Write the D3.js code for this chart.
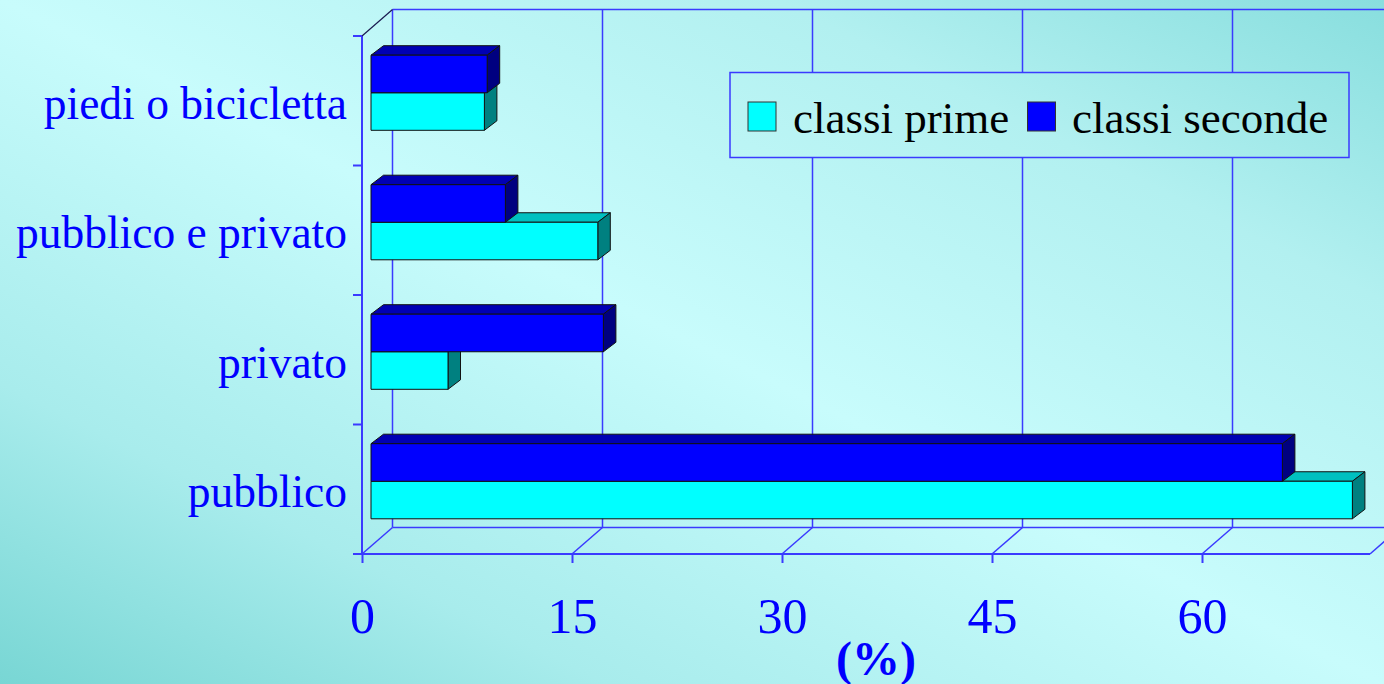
<!DOCTYPE html>
<html><head><meta charset="utf-8">
<script src="https://cdn.jsdelivr.net/npm/d3@7"></script>
<style>html,body{margin:0;padding:0;overflow:hidden;background:#c6fbfb} svg{display:block}</style>
</head><body>
<svg id="c" width="1384" height="684"></svg>
<script>
// ---- data ----
const categories = ["piedi o bicicletta", "pubblico e privato", "privato", "pubblico"];
const seriesNames = ["classi prime", "classi seconde"];
const classiPrime = [8.1, 16.2, 5.5, 70.1];
const classiSeconde = [8.3, 9.6, 16.6, 65.1];
const xTicks = [0, 15, 30, 45, 60];
const axisTitle = "(%)";

// ---- styles ----
const colors = {
  prime: {front: "#00ffff", top: "#00c0c0", side: "#008080"},
  seconde: {front: "#0000ff", top: "#0000b4", side: "#000080"}
};
const gridColor = "#3a3aff";
const labelColor = "#0000ff";
const fontFam = "'Liberation Serif','Times New Roman',serif";

const svg = d3.select("#c");
const W = 1384, H = 684;

// background gradient (light band along the top-left / bottom-right diagonal)
const defs = svg.append("defs");
const g = defs.append("linearGradient").attr("id", "bg")
  .attr("gradientUnits", "userSpaceOnUse")
  .attr("x1", 420).attr("y1", 892).attr("x2", 964).attr("y2", -208);
[[0, "#78d6d4"], [0.22, "#a8ecec"], [0.5, "#c8fcfc"], [0.78, "#b2f0f0"], [1, "#88dede"]]
  .forEach(([o, c]) => g.append("stop").attr("offset", o).attr("stop-color", c));
svg.append("rect").attr("width", W).attr("height", H).attr("fill", "url(#bg)");

// scales
const x = d3.scaleLinear().domain([0, 72]).range([362, 1370]);
const y = d3.scaleBand().domain(categories).range([36, 554]).paddingInner(0.42).paddingOuter(0.21);
const yIn = d3.scaleBand().domain(["seconde", "prime"]).range([0, y.bandwidth()]);
const back = {dx: 30.5, dy: -26.5};
const plane = {dx: 9, dy: -8};
const depth = {dx: 12.5, dy: -9.5};
const y0 = 36, yFloor = 554;
const xMax = x.domain()[1];

// ---- walls & grid ----
const grid = svg.append("g").attr("fill", "none").attr("stroke", gridColor).attr("stroke-width", 1.5);
const line = (a, b, c, d) => grid.append("line").attr("x1", a).attr("y1", b).attr("x2", c).attr("y2", d);
line(x(0) + back.dx, y0 + back.dy, x(xMax) + back.dx, y0 + back.dy);
line(x(0) + back.dx, yFloor + back.dy, x(xMax) + back.dx, yFloor + back.dy);
xTicks.forEach(t => {
  line(x(t) + back.dx, y0 + back.dy, x(t) + back.dx, yFloor + back.dy);
  line(x(t), yFloor, x(t) + back.dx, yFloor + back.dy);
});
line(x(xMax), yFloor, x(xMax) + back.dx, yFloor + back.dy);
line(x(0), yFloor, x(xMax), yFloor).attr("stroke-width", 2);
line(x(0), y0, x(0), yFloor).attr("stroke-width", 2);
line(x(0), y0, x(0) + back.dx, y0 + back.dy).attr("stroke", "#1a1a50").attr("stroke-width", 1.2);
const bounds = d3.range(categories.length + 1).map(i => y0 + i * y.step());
bounds.forEach(b => line(x(0) - 9, b, x(0), b).attr("stroke-width", 2));

// x axis via d3
const xAxis = d3.axisBottom(x).tickValues(xTicks).tickSize(9).tickPadding(34).tickFormat(d3.format("d"));
const ax = svg.append("g").attr("transform", `translate(0,${yFloor})`).call(xAxis);
ax.select(".domain").remove();
ax.selectAll(".tick line").attr("stroke", gridColor).attr("stroke-width", 2);
ax.selectAll(".tick text").attr("fill", labelColor).attr("font-family", fontFam).attr("font-size", 50);

// ---- bars ----
const bars = svg.append("g").attr("stroke", "#111").attr("stroke-width", 1).attr("stroke-linejoin", "round");
categories.forEach((cat, i) => {
  const rows = [
    {key: "prime", v: classiPrime[i]},
    {key: "seconde", v: classiSeconde[i]}
  ];
  rows.forEach(r => {
    const xa = x(0) + plane.dx, xb = x(r.v) + plane.dx;
    const ya = y(cat) + yIn(r.key) + plane.dy, h = yIn.bandwidth();
    const c = colors[r.key];
    const grp = bars.append("g");
    grp.append("polygon").attr("fill", c.top).attr("points",
      [[xa, ya], [xb, ya], [xb + depth.dx, ya + depth.dy], [xa + depth.dx, ya + depth.dy]].join(" "));
    grp.append("polygon").attr("fill", c.side).attr("points",
      [[xb, ya], [xb + depth.dx, ya + depth.dy], [xb + depth.dx, ya + h + depth.dy], [xb, ya + h]].join(" "));
    grp.append("rect").attr("fill", c.front).attr("x", xa).attr("y", ya).attr("width", xb - xa).attr("height", h);
  });
});

// ---- category labels ----
svg.append("g").selectAll("text").data(categories).join("text")
  .attr("x", 347).attr("y", d => y(d) + y.bandwidth() / 2)
  .attr("dy", "0.4em").attr("text-anchor", "end")
  .attr("fill", labelColor).attr("font-family", fontFam).attr("font-size", 45.5)
  .text(d => d);

// axis title
svg.append("text").attr("x", 876).attr("y", 675).attr("text-anchor", "middle")
  .attr("fill", labelColor).attr("font-family", fontFam).attr("font-size", 48).attr("font-weight", "bold")
  .text(axisTitle);

// ---- legend ----
const lg = svg.append("g");
lg.append("rect").attr("x", 730).attr("y", 72.5).attr("width", 619).attr("height", 85)
  .attr("fill", "url(#bg)").attr("stroke", gridColor).attr("stroke-width", 1.5);
const legendItems = [
  {name: seriesNames[0], col: colors.prime.front, sx: 748, tx: 793},
  {name: seriesNames[1], col: colors.seconde.front, sx: 1027.5, tx: 1072}
];
legendItems.forEach(it => {
  lg.append("rect").attr("x", it.sx).attr("y", 102).attr("width", 28).attr("height", 29)
    .attr("fill", it.col).attr("stroke", "#333").attr("stroke-width", 1);
  lg.append("text").attr("x", it.tx).attr("y", 133).attr("fill", "#000")
    .attr("font-family", fontFam).attr("font-size", 45).text(it.name);
});
</script>
</body></html>
